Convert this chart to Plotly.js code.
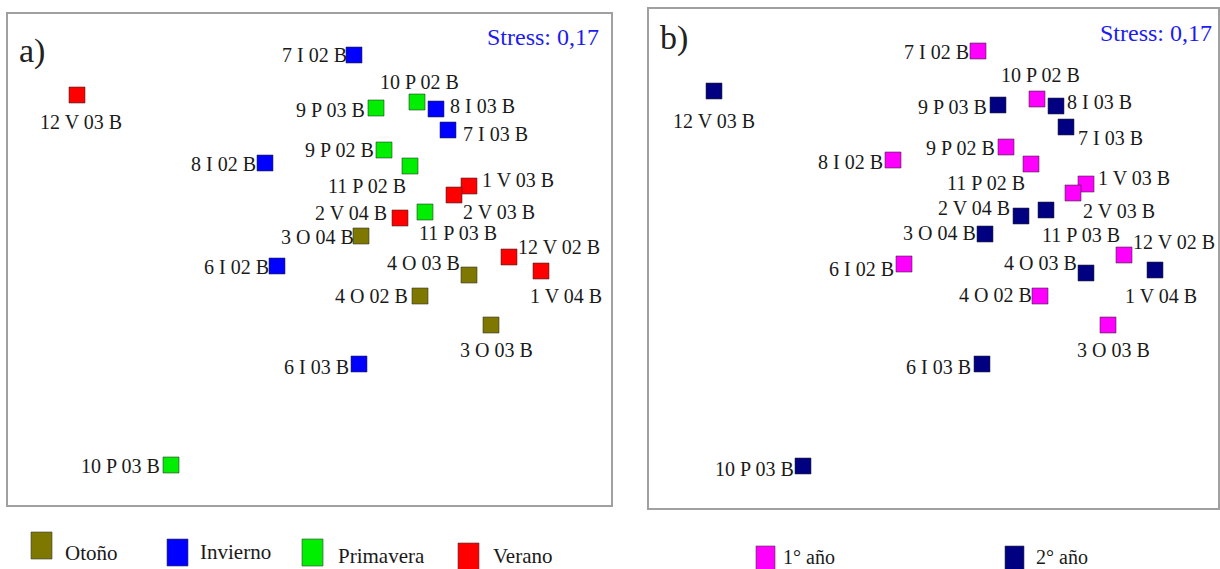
<!DOCTYPE html>
<html>
<head>
<meta charset="utf-8">
<script src="https://cdn.plot.ly/plotly-3.0.1.min.js"></script>
<style>
html,body{margin:0;padding:0;background:#ffffff;}
#chart{width:1220px;height:569px;}
</style>
</head>
<body>
<div id="chart"></div>
<script>
// ---------------- DATA ----------------
const labels = ['12 V 03 B','7 I 02 B','10 P 02 B','9 P 03 B','8 I 03 B','7 I 03 B','9 P 02 B','11 P 02 B',
  '8 I 02 B','1 V 03 B','2 V 03 B','2 V 04 B','11 P 03 B','3 O 04 B','12 V 02 B','6 I 02 B',
  '4 O 03 B','1 V 04 B','4 O 02 B','3 O 03 B','6 I 03 B','10 P 03 B'];
const seasonOf = ['V','I','P','P','I','I','P','P','I','V','V','V','P','O','V','I','O','V','O','O','I','P'];
// panel a) MDS coordinates
const xA = [-2.33,0.44,1.07,0.66,1.26,1.38,0.74,1.00,-0.45,1.59,1.44,0.90,1.15,0.51,1.99,-0.33,1.59,2.31,1.10,1.81,0.49,-1.39];
const yA = [1.65,2.05,1.58,1.52,1.51,1.30,1.10,0.94,0.97,0.74,0.65,0.42,0.48,0.24,0.03,-0.06,-0.15,-0.11,-0.36,-0.65,-1.04,-2.05];
// panel b) MDS coordinates
const xB = [-2.36,0.28,0.87,0.48,1.06,1.16,0.56,0.81,-0.57,1.36,1.23,0.71,0.96,0.35,1.74,-0.46,1.36,2.05,0.90,1.58,0.32,-1.47];
const yB = [1.69,2.09,1.61,1.55,1.54,1.33,1.13,0.96,1.00,0.76,0.67,0.44,0.50,0.26,0.05,-0.04,-0.13,-0.10,-0.36,-0.65,-1.04,-2.06];
const yearOf = [2,1,1,2,2,2,1,1,1,1,1,2,2,2,1,1,2,2,1,1,2,2];

const seasonKeys = ['O','I','P','V'];
const seasonNames = ['Otoño','Invierno','Primavera','Verano'];
const yearKeys = [1,2];
const yearNames = ['1° año','2° año'];
const stressText = 'Stress: 0,17';
const panelTags = ['a)','b)'];

// ---------------- STYLE ----------------
const W = 1220, H = 569;
const seasonColors = {O:'#7f7800', I:'#0000ff', P:'#00ee00', V:'#ff0000'};
const yearColors = {1:'#ff00ff', 2:'#000080'};
const SERIF = 'Liberation Serif, DejaVu Serif, serif';

// label placement: [anchor, dx, dy] in pixels (dy positive = down)
const placeA = [['center',4,27],['right',-7,0],['center',2,-20],['right',-11,2],['left',14,-3],['left',15,4],
  ['right',-10,0],['right',-4,20],['right',-9,1],['left',13,-6],['left',9,17],['right',-13,-5],['left',-6,21],
  ['right',-7,1],['left',9,-10],['right',-8,1],['right',-9,-12],['center',25,25],['right',-12,0],['center',5,25],
  ['right',-10,3],['right',-11,1]];
const placeB = [['center',0,30],['right',-9,1],['center',3,-24],['right',-11,2],['left',11,-4],['left',12,11],
  ['right',-11,1],['right',-6,19],['right',-10,2],['left',12,-6],['left',10,18],['right',-11,-8],['left',-4,25],
  ['right',-9,-1],['left',9,-13],['right',-10,5],['right',-9,-10],['center',6,26],['right',-8,-1],['center',5,25],
  ['right',-11,3],['right',-9,3]];

const px = v => v / W;
const py = v => 1 - v / H;

const markerBase = {symbol:'square', size:16, line:{color:'rgba(40,40,40,0.55)', width:1}};

const traces = [
  {type:'scatter', mode:'markers', x:xA, y:yA, xaxis:'x', yaxis:'y', text:labels, hoverinfo:'text',
   marker:Object.assign({}, markerBase, {color:seasonOf.map(s => seasonColors[s])}), showlegend:false},
  {type:'scatter', mode:'markers', x:xB, y:yB, xaxis:'x2', yaxis:'y2', text:labels, hoverinfo:'text',
   marker:Object.assign({}, markerBase, {color:yearOf.map(k => yearColors[k])}), showlegend:false}
];

const annotations = [];
function addLabels(xs, ys, place, xr, yr){
  labels.forEach((t,i) => {
    const p = place[i];
    annotations.push({x:xs[i], y:ys[i], xref:xr, yref:yr, text:t, showarrow:false,
      xanchor:p[0], yanchor:'middle', xshift:p[1], yshift:-p[2], borderpad:0, borderwidth:0,
      font:{family:SERIF, size:20, color:'#1a1a1a'}});
  });
}
addLabels(xA, yA, placeA, 'x', 'y');
addLabels(xB, yB, placeB, 'x2', 'y2');

// stress & panel tags
annotations.push({xref:'paper', yref:'paper', x:px(600), y:py(37), xanchor:'right', yanchor:'middle', text:stressText,
  showarrow:false, borderpad:0, font:{family:SERIF, size:24, color:'#1c1cf0'}});
annotations.push({xref:'paper', yref:'paper', x:px(1213), y:py(33), xanchor:'right', yanchor:'middle', text:stressText,
  showarrow:false, borderpad:0, font:{family:SERIF, size:24, color:'#1c1cf0'}});
annotations.push({xref:'paper', yref:'paper', x:px(18), y:py(51), xanchor:'left', yanchor:'middle', text:panelTags[0],
  showarrow:false, borderpad:0, font:{family:SERIF, size:34, color:'#222'}});
annotations.push({xref:'paper', yref:'paper', x:px(659), y:py(38), xanchor:'left', yanchor:'middle', text:panelTags[1],
  showarrow:false, borderpad:0, font:{family:SERIF, size:34, color:'#222'}});

// legends (shapes + text)
const shapes = [];
const legA = [[31,532,64,553],[167,539,199,552],[302,539,337,556],[458,543,492,556]]; // [sqX, sqTop, textX, textY]
seasonKeys.forEach((k,i) => {
  const g = legA[i];
  shapes.push({type:'rect', xref:'paper', yref:'paper', x0:px(g[0]), x1:px(g[0]+21), y0:py(g[1]+27), y1:py(g[1]),
    fillcolor:seasonColors[k], line:{color:'rgba(60,60,60,0.6)', width:1}});
  annotations.push({xref:'paper', yref:'paper', x:px(g[2]), y:py(g[3]), xanchor:'left', yanchor:'middle',
    text:seasonNames[i], showarrow:false, borderpad:0, font:{family:SERIF, size:21, color:'#1a1a1a'}});
});
const legB = [[756,546,782,557],[1005,546,1035,557]];
yearKeys.forEach((k,i) => {
  const g = legB[i];
  shapes.push({type:'rect', xref:'paper', yref:'paper', x0:px(g[0]), x1:px(g[0]+19), y0:py(g[1]+27), y1:py(g[1]),
    fillcolor:yearColors[k], line:{color:'rgba(60,60,60,0.6)', width:1}});
  annotations.push({xref:'paper', yref:'paper', x:px(g[2]), y:py(g[3]), xanchor:'left', yanchor:'middle',
    text:yearNames[i], showarrow:false, borderpad:0, font:{family:SERIF, size:20, color:'#1a1a1a'}});
});

const axisBase = {showgrid:false, zeroline:false, showticklabels:false, ticks:'', showline:true, mirror:true,
  linecolor:'#a0a0a0', linewidth:2, fixedrange:true};

const layout = {
  width:W, height:H, margin:{l:0,r:0,t:0,b:0}, paper_bgcolor:'#ffffff', plot_bgcolor:'#ffffff',
  showlegend:false,
  xaxis:Object.assign({}, axisBase, {domain:[px(8), px(611)], range:[-3.02, 3.01]}),
  yaxis:Object.assign({}, axisBase, {domain:[py(505), py(14)], range:[-2.45, 2.46]}),
  xaxis2:Object.assign({}, axisBase, {domain:[px(649), px(1218)], range:[-3.01, 2.68], anchor:'y2'}),
  yaxis2:Object.assign({}, axisBase, {domain:[py(508), py(9)], range:[-2.48, 2.51], anchor:'x2'}),
  annotations:annotations, shapes:shapes
};

Plotly.newPlot('chart', traces, layout, {staticPlot:true, displayModeBar:false});
</script>
</body>
</html>
